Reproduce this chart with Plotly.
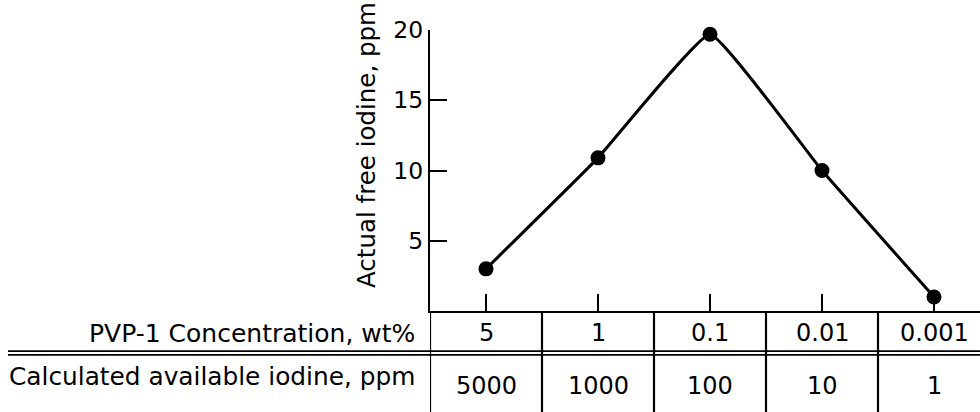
import plotly.graph_objects as go

# ---- data ----
conc_labels = ["5", "1", "0.1", "0.01", "0.001"]          # PVP-1 concentration, wt%
avail_labels = ["5000", "1000", "100", "10", "1"]          # calculated available iodine, ppm
free_iodine = [3.0, 10.9, 19.7, 10.0, 1.0]                 # actual free iodine, ppm
y_ticks = [5, 10, 15, 20]

W, H = 980, 412
L, R, T, B = 430, 0, 30, 101
PW = W - L - R
PH = H - T - B

def py2paper(py):
    return (H - B - py) / PH

def px2paper(px):
    return (px - L) / PW

FONT = "DejaVu Sans"
xpos = list(range(len(conc_labels)))

fig = go.Figure()
fig.add_trace(go.Scatter(
    x=xpos, y=free_iodine, mode="lines+markers",
    line=dict(color="black", width=3, shape="spline", smoothing=0.3),
    marker=dict(color="black", size=15),
    cliponaxis=False, showlegend=False, hoverinfo="skip",
))

shapes = []
# vertical column dividers through the table
for i in range(len(conc_labels) + 1):
    shapes.append(dict(type="line", xref="x", yref="paper",
                       x0=i - 0.5, x1=i - 0.5, y0=py2paper(H), y1=0,
                       line=dict(color="black", width=2.2)))
# double separator between rows
for py in (351.2, 354.8):
    shapes.append(dict(type="line", xref="paper", yref="paper",
                       x0=px2paper(8), x1=1, y0=py2paper(py), y1=py2paper(py),
                       line=dict(color="black", width=1.7)))

annotations = []
for i, (c, a) in enumerate(zip(conc_labels, avail_labels)):
    annotations.append(dict(x=i, y=py2paper(333), xref="x", yref="paper", text=c,
                            showarrow=False, xanchor="center", yanchor="middle",
                            font=dict(family=FONT, size=24, color="black")))
    annotations.append(dict(x=i, y=py2paper(386), xref="x", yref="paper", text=a,
                            showarrow=False, xanchor="center", yanchor="middle",
                            font=dict(family=FONT, size=24, color="black")))
annotations.append(dict(x=px2paper(417), y=py2paper(333), xref="paper", yref="paper",
                        text="PVP-1 Concentration, wt%", showarrow=False,
                        xanchor="right", yanchor="middle",
                        font=dict(family=FONT, size=25, color="black")))
annotations.append(dict(x=px2paper(417), y=py2paper(376), xref="paper", yref="paper",
                        text="Calculated available iodine, ppm", showarrow=False,
                        xanchor="right", yanchor="middle",
                        font=dict(family=FONT, size=24.8, color="black")))
annotations.append(dict(x=px2paper(366), y=py2paper(145), xref="paper", yref="paper",
                        text="Actual free iodine, ppm", showarrow=False, textangle=-90,
                        xanchor="center", yanchor="middle",
                        font=dict(family=FONT, size=24.5, color="black")))

fig.update_layout(
    width=W, height=H,
    margin=dict(l=L, r=R, t=T, b=B, pad=0),
    paper_bgcolor="white", plot_bgcolor="white",
    shapes=shapes, annotations=annotations,
    xaxis=dict(range=[-0.5, -0.5 + PW / 112.0], tickvals=xpos, showticklabels=False,
               ticks="inside", ticklen=17, tickwidth=2.2, tickcolor="black",
               showline=True, linecolor="black", linewidth=2.4,
               showgrid=False, zeroline=False, fixedrange=True),
    yaxis=dict(range=[0, 20], tickvals=y_ticks, ticks="inside", ticklen=17,
               tickwidth=2.2, tickcolor="black",
               showline=True, linecolor="black", linewidth=2.4,
               showgrid=False, zeroline=False, fixedrange=True,
               tickfont=dict(family=FONT, size=23.5, color="black")),
    font=dict(family=FONT, color="black"),
)

fig.write_html("out.html")
